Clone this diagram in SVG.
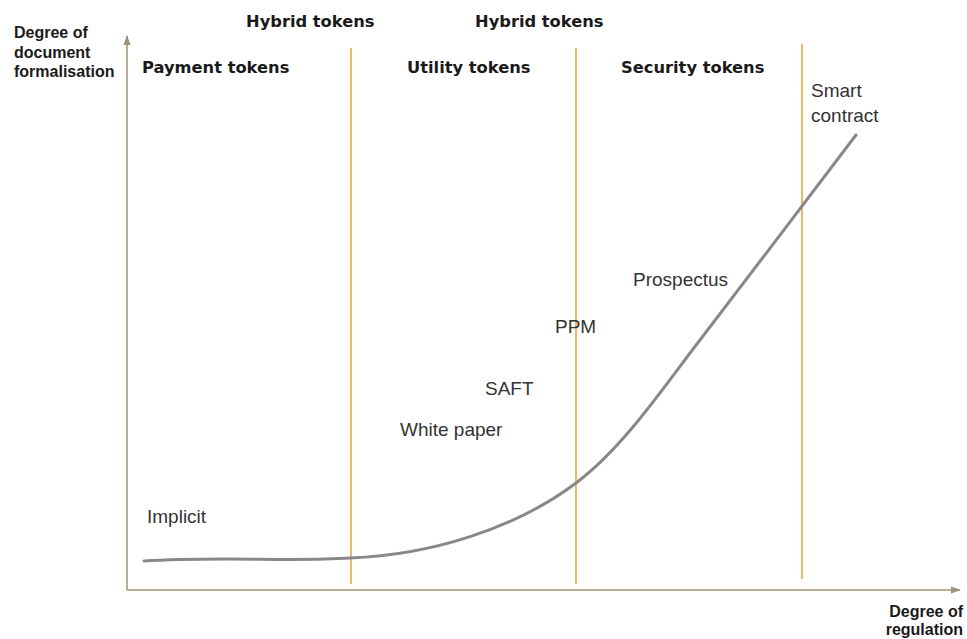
<svg xmlns="http://www.w3.org/2000/svg" width="967" height="639" viewBox="0 0 967 639">
<style>
text{font-family:"Liberation Sans",Arial,sans-serif;fill:#222}
.b{font-family:"DejaVu Sans",Verdana,sans-serif;font-weight:bold;font-size:16.3px;fill:#1a1a1a}
.ax{font-weight:bold;font-size:16px;fill:#1a1a1a}
.n{font-size:19px;fill:#333}
.div{stroke:#f0a030;stroke-width:1.5}
.axis{stroke:#9c9478;stroke-width:1.5;fill:none}
</style>
<defs>
<marker id="ah" markerWidth="10" markerHeight="10" refX="9" refY="5" orient="auto" markerUnits="userSpaceOnUse">
<path d="M0,1.5 L10,5 L0,8.5 Z" fill="#9c9478"/>
</marker>
</defs>
<rect width="967" height="639" fill="#fff"/>
<g id="connectors">
<line class="axis" x1="127" y1="590" x2="127" y2="36" marker-end="url(#ah)"/>
<line class="axis" x1="127" y1="590" x2="960" y2="590" marker-end="url(#ah)"/>
<line class="div" x1="351" y1="48" x2="351" y2="584"/>
<line class="div" x1="576" y1="48" x2="576" y2="584"/>
<line class="div" x1="802" y1="44" x2="802" y2="579"/>
<path id="curve" d="M144,561 C220,556 290,562 350,558 C430,555 515,529 576,483 C624,447 665,385 700,340 C750,275 810,195 856,135" fill="none" stroke="#888" stroke-width="3" stroke-linecap="round"/>
</g>
<g id="y-label"><text class="ax" x="14" y="38">Degree of</text><text class="ax" x="14" y="57.5">document</text><text class="ax" x="14" y="77">formalisation</text></g>
<g id="x-label"><text class="ax" x="963" y="617" text-anchor="end">Degree of</text><text class="ax" x="963" y="635" text-anchor="end">regulation</text></g>
<g id="hybrid1"><text class="b" x="246" y="27">Hybrid tokens</text></g>
<g id="hybrid2"><text class="b" x="475" y="27">Hybrid tokens</text></g>
<g id="payment"><text class="b" x="142" y="73">Payment tokens</text></g>
<g id="utility"><text class="b" x="407" y="73">Utility tokens</text></g>
<g id="security"><text class="b" x="621" y="73">Security tokens</text></g>
<g id="smart"><text class="n" x="811" y="97">Smart</text><text class="n" x="811" y="122">contract</text></g>
<g id="prospectus"><text class="n" x="633" y="286">Prospectus</text></g>
<g id="ppm"><text class="n" x="555" y="333">PPM</text></g>
<g id="saft"><text class="n" x="485" y="395">SAFT</text></g>
<g id="whitepaper"><text class="n" x="400" y="436">White paper</text></g>
<g id="implicit"><text class="n" x="147" y="523">Implicit</text></g>
</svg>
